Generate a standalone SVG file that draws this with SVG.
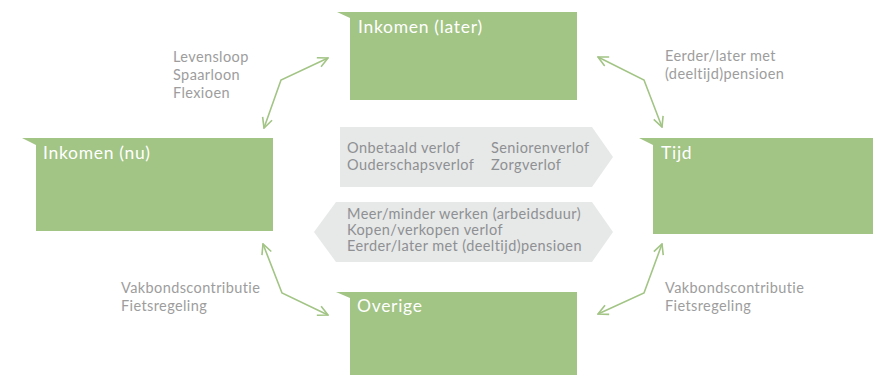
<svg xmlns="http://www.w3.org/2000/svg" width="873" height="375" viewBox="0 0 873 375">
<style>
.box{fill:#a2c485}
.title{font-family:Lato,"Open Sans",sans-serif;font-size:17.5px;letter-spacing:0.7px;fill:#ffffff}
.lbl{font-family:Lato,"Open Sans",sans-serif;font-size:14.5px;letter-spacing:0.4px;fill:#9d9d9d}
.mid{font-family:Lato,"Open Sans",sans-serif;font-size:14.5px;letter-spacing:0.42px;fill:#8e9093}
.band{fill:#e7e8e8}
.conn{fill:none;stroke:#a2c485;stroke-width:1.6;marker-start:url(#ah);marker-end:url(#ah)}
</style>
<defs>
<marker id="ah" viewBox="0 0 12 12" refX="11" refY="6" markerWidth="12" markerHeight="12" markerUnits="userSpaceOnUse" orient="auto-start-reverse">
<path d="M1,1 L11,6 L1,11" fill="none" stroke="#a2c485" stroke-width="1.6"/>
</marker>
</defs>
<rect width="873" height="375" fill="#ffffff"/>
<g id="band-right">
<polygon class="band" points="340,127 592,127 613,157 592,187 340,187"/>
<text class="mid" x="347" y="153">Onbetaald verlof</text>
<text class="mid" x="347" y="170">Ouderschapsverlof</text>
<text class="mid" x="491" y="153">Seniorenverlof</text>
<text class="mid" x="491" y="170">Zorgverlof</text>
</g>
<g id="band-left">
<polygon class="band" points="314,232 336,202 592,202 613,232 592,262 336,262"/>
<text class="mid" x="347" y="219">Meer/minder werken (arbeidsduur)</text>
<text class="mid" x="347" y="235">Kopen/verkopen verlof</text>
<text class="mid" x="347" y="251">Eerder/later met (deeltijd)pensioen</text>
</g>
<g id="node-later">
<polygon class="box" points="337,12 577,12 577,100 350,100 350,18"/>
<text class="title" x="358" y="33">Inkomen (later)</text>
</g>
<g id="node-nu">
<polygon class="box" points="22,138 273,138 273,231 36,231 36,145"/>
<text class="title" x="43" y="159">Inkomen (nu)</text>
</g>
<g id="node-tijd">
<polygon class="box" points="639,138 873,138 873,234 653,234 653,145"/>
<text class="title" x="661" y="159">Tijd</text>
</g>
<g id="node-overige">
<polygon class="box" points="336,292 577,292 577,375 350,375 350,298"/>
<text class="title" x="357" y="312">Overige</text>
</g>
<g id="connectors">
<polyline class="conn" points="264,128 281,80 328,58"/>
<polyline class="conn" points="598,57 644,80 662,127"/>
<polyline class="conn" points="263,244 282,293 328,315"/>
<polyline class="conn" points="662,244 644,293 598,314"/>
</g>
<g id="labels">
<text class="lbl" x="173" y="62">Levensloop</text>
<text class="lbl" x="173" y="80">Spaarloon</text>
<text class="lbl" x="173" y="98">Flexioen</text>
<text class="lbl" x="665" y="61">Eerder/later met</text>
<text class="lbl" x="665" y="79">(deeltijd)pensioen</text>
<text class="lbl" x="121" y="293">Vakbondscontributie</text>
<text class="lbl" x="121" y="311">Fietsregeling</text>
<text class="lbl" x="665" y="293">Vakbondscontributie</text>
<text class="lbl" x="665" y="311">Fietsregeling</text>
</g>
</svg>
